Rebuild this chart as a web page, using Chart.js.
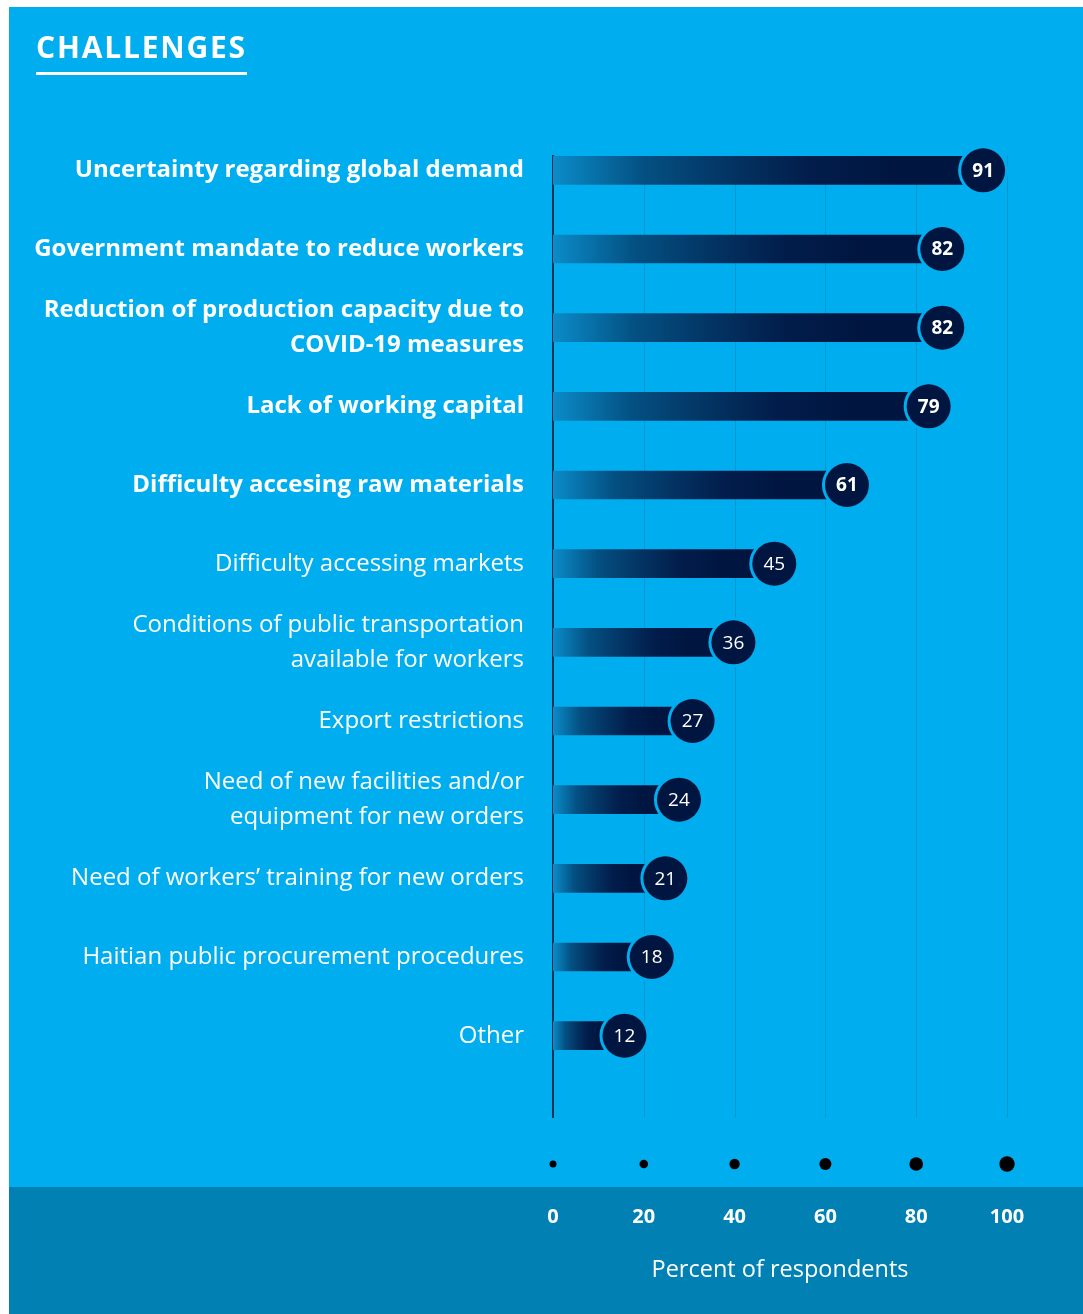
<!DOCTYPE html>
<html><head><meta charset="utf-8">
<script src="https://cdn.jsdelivr.net/npm/chart.js@4/dist/chart.umd.min.js"></script>
<style>
html,body{margin:0;padding:0;background:#fff;}
#wrap{position:relative;width:1083px;height:1314px;overflow:hidden;background:#fff;}
#bgTop{position:absolute;left:9px;top:7px;width:1074px;height:1180px;background:#00AEEF;}
#bgBot{position:absolute;left:9px;top:1187px;width:1074px;height:127px;background:#0080B3;}
#c{position:absolute;left:0;top:0;}
#title{position:absolute;left:36px;top:26px;font-family:'Open Sans',sans-serif;font-weight:700;font-size:30px;line-height:42px;color:#fff;border-bottom:3px solid #fff;padding-bottom:4px;letter-spacing:1.8px;}
</style></head>
<body>
<div id="wrap">
  <div id="bgTop"></div><div id="bgBot"></div>
  <canvas id="c" width="1083" height="1314"></canvas>
  <div id="title">CHALLENGES</div>
</div>
<script>
const chartTitle = 'CHALLENGES';
const categories = [
  'Uncertainty regarding global demand',
  'Government mandate to reduce workers',
  ['Reduction of production capacity due to', 'COVID-19 measures'],
  'Lack of working capital',
  'Difficulty accesing raw materials',
  'Difficulty accessing markets',
  ['Conditions of public transportation', 'available for workers'],
  'Export restrictions',
  ['Need of new facilities and/or', 'equipment for new orders'],
  'Need of workers’ training for new orders',
  'Haitian public procurement procedures',
  'Other'
];
const values = [91, 82, 82, 79, 61, 45, 36, 27, 24, 21, 18, 12];
const xTicks = [0, 20, 40, 60, 80, 100];
const axisTitle = 'Percent of respondents';
const boldRows = 5;

const BG = '#00AEEF';
const NAVY = '#001641';
const FONT = "'Open Sans', sans-serif";

function barFill(c) {
  const chart = c.chart;
  if (!chart.chartArea || !chart.scales.x) return NAVY;
  const xs = chart.scales.x;
  const v = c.raw;
  const x0 = xs.getPixelForValue(0), x1 = xs.getPixelForValue(v);
  const g = chart.ctx.createLinearGradient(x0, 0, x1, 0);
  g.addColorStop(0, '#0a8cc9');
  g.addColorStop(0.22, '#045082');
  g.addColorStop(0.42, '#033564');
  g.addColorStop(0.62, '#021d4b');
  g.addColorStop(0.82, NAVY);
  g.addColorStop(1, NAVY);
  return g;
}

const decor = {
  id: 'decor',
  beforeDatasetsDraw(chart) {
    const {ctx, chartArea, scales: {x}} = chart;
    const top = chartArea.top + 25, bot = chartArea.bottom + 43;
    ctx.save();
    x.ticks.forEach(t => {
      if (t.value === 0) return;
      const px = Math.round(x.getPixelForValue(t.value)) + 0.5;
      ctx.strokeStyle = '#0898d0';
      ctx.lineWidth = 1;
      ctx.beginPath(); ctx.moveTo(px, top); ctx.lineTo(px, bot); ctx.stroke();
    });
    const p0 = x.getPixelForValue(0);
    ctx.strokeStyle = '#0b3452';
    ctx.lineWidth = 2;
    ctx.beginPath(); ctx.moveTo(p0, top - 1); ctx.lineTo(p0, bot); ctx.stroke();
    ctx.restore();
  },
  afterDatasetsDraw(chart) {
    const {ctx} = chart;
    const meta = chart.getDatasetMeta(0);
    ctx.save();
    meta.data.forEach((el, i) => {
      const cx = el.x + 17, cy = el.y;
      ctx.fillStyle = BG;
      ctx.beginPath(); ctx.arc(cx, cy, 25, 0, Math.PI * 2); ctx.fill();
      ctx.fillStyle = NAVY;
      ctx.beginPath(); ctx.arc(cx, cy, 22, 0, Math.PI * 2); ctx.fill();
      ctx.fillStyle = '#fff';
      ctx.textAlign = 'center';
      ctx.textBaseline = 'middle';
      ctx.font = (i < boldRows ? '700 19px ' : '400 19px ') + FONT;
      ctx.fillText(String(values[i]), cx, cy + 1);
    });
    ctx.restore();
  },
  afterDraw(chart) {
    const {ctx, chartArea, scales: {x}} = chart;
    const y = chartArea.bottom + 89;
    ctx.save();
    ctx.fillStyle = '#000';
    x.ticks.forEach(t => {
      const r = 3.5 + t.value * 0.042;
      ctx.beginPath(); ctx.arc(x.getPixelForValue(t.value), y, r, 0, Math.PI * 2); ctx.fill();
    });
    ctx.restore();
  }
};

new Chart(document.getElementById('c'), {
  type: 'bar',
  data: {
    labels: categories,
    datasets: [{ data: values, barThickness: 28, backgroundColor: barFill, borderWidth: 0 }]
  },
  options: {
    responsive: false,
    animation: false,
    indexAxis: 'y',
    layout: { padding: { top: 131, right: 76, left: 0, bottom: 0 } },
    plugins: { legend: { display: false }, tooltip: { enabled: false }, title: { display: false } },
    scales: {
      x: {
        min: 0, max: 100,
        afterBuildTicks: s => { s.ticks = xTicks.map(v => ({ value: v })); },
        grid: { display: false, drawTicks: false },
        border: { display: false },
        ticks: { color: '#fff', font: { family: FONT, weight: '700', size: 20 }, padding: 130, maxRotation: 0 },
        title: { display: true, text: axisTitle, color: '#fff', font: { family: FONT, size: 23.5, weight: '400' }, padding: { top: 0, bottom: 30 } },
        afterFit: s => { s.height = 239; s.paddingLeft = 0; s.paddingRight = 0; }
      },
      y: {
        grid: { display: false, drawTicks: false },
        border: { display: false },
        ticks: {
          color: '#fff', padding: 29, autoSkip: false,
          font: c => ({ family: FONT, size: 24, weight: c.index < boldRows ? '700' : '400', lineHeight: 1.46 })
        },
        afterFit: s => { s.width = 553; }
      }
    }
  },
  plugins: [decor]
});
</script>
</body></html>
